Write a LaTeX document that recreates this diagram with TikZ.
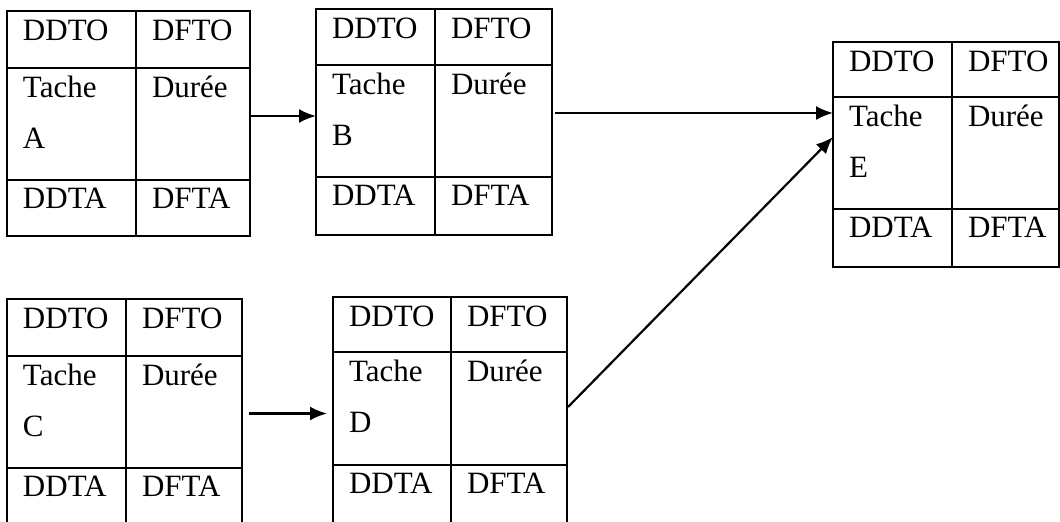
\documentclass[tikz,border=0pt]{standalone}
\usepackage{fontspec}
\setmainfont{Liberation Serif}
\usetikzlibrary{arrows.meta}

\tikzset{
    tableau/.style={draw, anchor=north west, inner sep=0, outer sep=0},
    cellule/.style={anchor=base west, inner sep=0, outer sep=0},
    fleche/.style={-{Latex[length=8.5pt,width=7pt]}}
}

\begin{document}
\begin{tikzpicture}[x=0.5pt, y=-0.5pt, line width=1.1pt, font=\fontsize{15.5}{18}\selectfont]

\useasboundingbox (0,0) rectangle (1060,521);

\foreach\n/\x/\y/\wa/\wb/\ha/\hb/\hc in {A/7/11/129/114/57/112/56, B/316/9/119/117/56/112/58, E/833/42/119/107/55/112/58, C/7/299/119/116/57/112/60, D/333/297/118/116/55/113/60}{
    \node[tableau, minimum width={(\wa+\wb)*0.5pt}, minimum height={(\ha+\hb+\hc)*0.5pt}] (\n) at (\x, \y) {};
    \draw (\x+\wa, \y) -- (\x+\wa, \y+\ha+\hb+\hc);
    \draw (\x, \y+\ha) -- ++(\wa+\wb, 0);
    \draw (\x, \y+\ha+\hb) -- ++(\wa+\wb, 0);
    \node[cellule] (\n-ddto) at (\x+16, \y+29) {DDTO};
    \node[cellule] (\n-dfto) at (\x+\wa+16, \y+29) {DFTO};
    \node[cellule] (\n-tache) at (\x+16, \y+\ha+29) {Tache};
    \node[cellule] (\n-lettre) at (\x+16, \y+\ha+80) {\n};
    \node[cellule] (\n-duree) at (\x+\wa+16, \y+\ha+29) {Durée};
    \node[cellule] (\n-ddta) at (\x+16, \y+\ha+\hb+28) {DDTA};
    \node[cellule] (\n-dfta) at (\x+\wa+16, \y+\ha+\hb+28) {DFTA};
}

\draw[fleche] ([yshift=3.75pt]A.east) -- ([yshift=3.75pt]A.east -| B.west);
\draw[fleche] ([xshift=1.5pt, yshift=4.5pt]B.east) -- ([yshift=4.5pt]B.east -| E.west);
\draw[fleche] ([xshift=3.5pt]C.east) -- ([xshift=-3pt]C.east -| D.west);
\draw[fleche] ([xshift=0.5pt, yshift=2pt]D.east) -- ([yshift=8.75pt]E.west);

\end{tikzpicture}
\end{document}
